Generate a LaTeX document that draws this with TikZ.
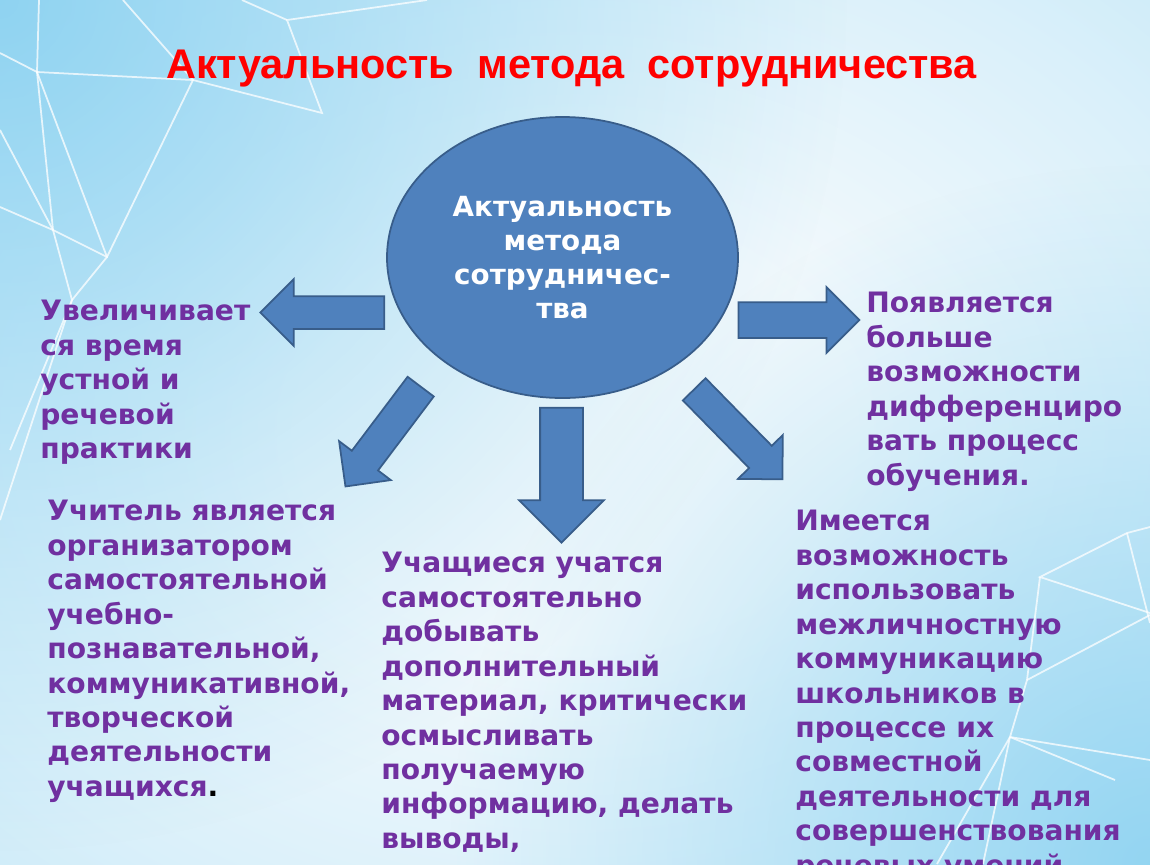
\documentclass[tikz,border=0pt]{standalone}
\usepackage{fontspec}
\setmainfont{DejaVu Sans}
\newfontfamily\titlefont{Liberation Sans}
\usetikzlibrary{shapes.arrows, shapes.geometric, fadings}
\definecolor{bgin}{HTML}{F3F9FC}
\definecolor{bgmid}{HTML}{DAF0FA}
\definecolor{bgedge}{HTML}{B8E3F6}
\definecolor{bgcorner}{HTML}{84CFF0}
\definecolor{arrowfill}{HTML}{4F81BD}
\definecolor{arrowedge}{HTML}{385D8A}
\definecolor{textpurple}{HTML}{7030A0}
\definecolor{titlered}{HTML}{FF0000}
\pgfdeclareradialshading{slidebg}{\pgfpoint{0bp}{0bp}}{color(0bp)=(bgin); color(12bp)=(bgin); color(30bp)=(bgmid); color(50bp)=(bgedge)}
\tikzfading[name=cornerfade, inner color=transparent!0, outer color=transparent!100]
\tikzstyle{bigarrow} = [single arrow, draw=arrowedge, fill=arrowfill, line width=1pt, inner xsep=0pt]
\tikzstyle{purpletext} = [align=left, inner sep=0pt, anchor=north west, text=textpurple, font=\bfseries\fontsize{16}{19.6}\selectfont]
\tikzstyle{netline} = [white, line width=1pt, opacity=0.75]

\begin{document}
\begin{tikzpicture}
      \useasboundingbox (0, 0) rectangle (23, -17.28);
      \clip (0, 0) rectangle (23, -17.28);
      \shade[shading=slidebg] (0, 0) rectangle (23, -17.28);
      \fill[bgcorner, path fading=cornerfade, opacity=0.85] (0, 0) circle (17cm);
      \fill[bgcorner, path fading=cornerfade, opacity=0.8] (23, -17.28) circle (14cm);

      % white net in the corners
      \draw[netline] (0.78, 0) -- (0.74, -1.44) -- (1.06, -4.6) -- (1.44, -6) -- (0.2, -9);
      \draw[netline] (0, -1.06) -- (0.74, -1.44) -- (3.86, -1.6) -- (6.44, -2.26) -- (5.74, -0.4) -- (8.54, 0);
      \draw[netline] (2.46, 0) -- (3.86, -1.6) -- (2.14, -5.14) -- (1.06, -4.6) -- (0, -4.14);
      \draw[netline] (0, -2.6) -- (1.06, -4.6);
      \draw[netline] (0.74, -1.44) -- (2.14, -5.14) -- (1.44, -6);
      \draw[netline] (4.84, 0) -- (5.74, -0.4);
      \draw[netline] (1.44, -6) -- (0, -10.4);
      \draw[netline] (23, -10.54) -- (22.54, -10.66) -- (20.8, -11.54) -- (23, -12.26);
      \draw[netline] (22.54, -10.66) -- (23, -12.46);
      \draw[netline] (20.8, -11.54) -- (20.54, -13.6) -- (20.2, -14.74) -- (23, -15.2);
      \draw[netline] (20.54, -13.6) -- (23, -12.3);
      \draw[netline] (20.2, -14.74) -- (19.66, -17.28);
      \draw[netline] (20.2, -14.74) -- (18.74, -17.28);
      \draw[netline] (20.2, -14.74) -- (22.3, -15.6);

      \node[font=\titlefont\bfseries\fontsize{23.6}{28}\selectfont, text=titlered, anchor=base] (title) at (11.43, -1.57) {Актуальность\ \ метода\ \ сотрудничества};

      \node[ellipse, draw=arrowedge, fill=arrowfill, line width=1pt, minimum width=7.02cm, minimum height=5.62cm, text=white, align=center, font=\bfseries\fontsize{15.8}{19.4}\selectfont] (method) at (11.25, -5.15) {Актуальность\\метода\\сотрудничес-\\тва};

      \node[bigarrow, minimum height=2.48cm, minimum width=1.3cm, inner ysep=0.31cm, single arrow head extend=0.34cm, rotate=180] (arrL) at (6.61, -6.25) {};
      \node[bigarrow, minimum height=2.42cm, minimum width=1.28cm, inner ysep=0.34cm, single arrow head extend=0.3cm] (arrR) at (15.8, -6.4) {};
      \node[bigarrow, minimum height=2.7cm, minimum width=1.66cm, inner ysep=0.41cm, single arrow head extend=0.42cm, rotate=-90] (arrD) at (11.23, -9.29) {};
      \node[bigarrow, minimum height=2.5cm, minimum width=1.26cm, inner ysep=0.31cm, single arrow head extend=0.32cm, rotate=233] (arrDL) at (7.76, -8.6) {};
      \node[bigarrow, minimum height=2.52cm, minimum width=1.23cm, inner ysep=0.3cm, single arrow head extend=0.31cm, rotate=-45.6] (arrDR) at (14.655, -8.573) {};

      \node[purpletext] (talk) at (0.8, -6.0) {Увеличивает\\ся время\\устной и\\речевой\\практики};
      \node[purpletext] (teacher) at (0.94, -10.0) {Учитель является\\организатором\\самостоятельной\\учебно-\\познавательной,\\коммуникативной,\\творческой\\деятельности\\учащихся\textcolor{black}{.}};
      \node[purpletext] (pupils) at (7.62, -11.04) {Учащиеся учатся\\самостоятельно\\добывать\\дополнительный\\материал, критически\\осмысливать\\получаемую\\информацию, делать\\выводы,};
      \node[purpletext] (differ) at (17.32, -5.84) {Появляется\\больше\\возможности\\дифференциро\\вать процесс\\обучения.};
      \node[purpletext] (commun) at (15.9, -10.2) {Имеется\\возможность\\использовать\\межличностную\\коммуникацию\\школьников в\\процессе их\\совместной\\деятельности для\\совершенствования\\речевых умений};
\end{tikzpicture}
\end{document}
